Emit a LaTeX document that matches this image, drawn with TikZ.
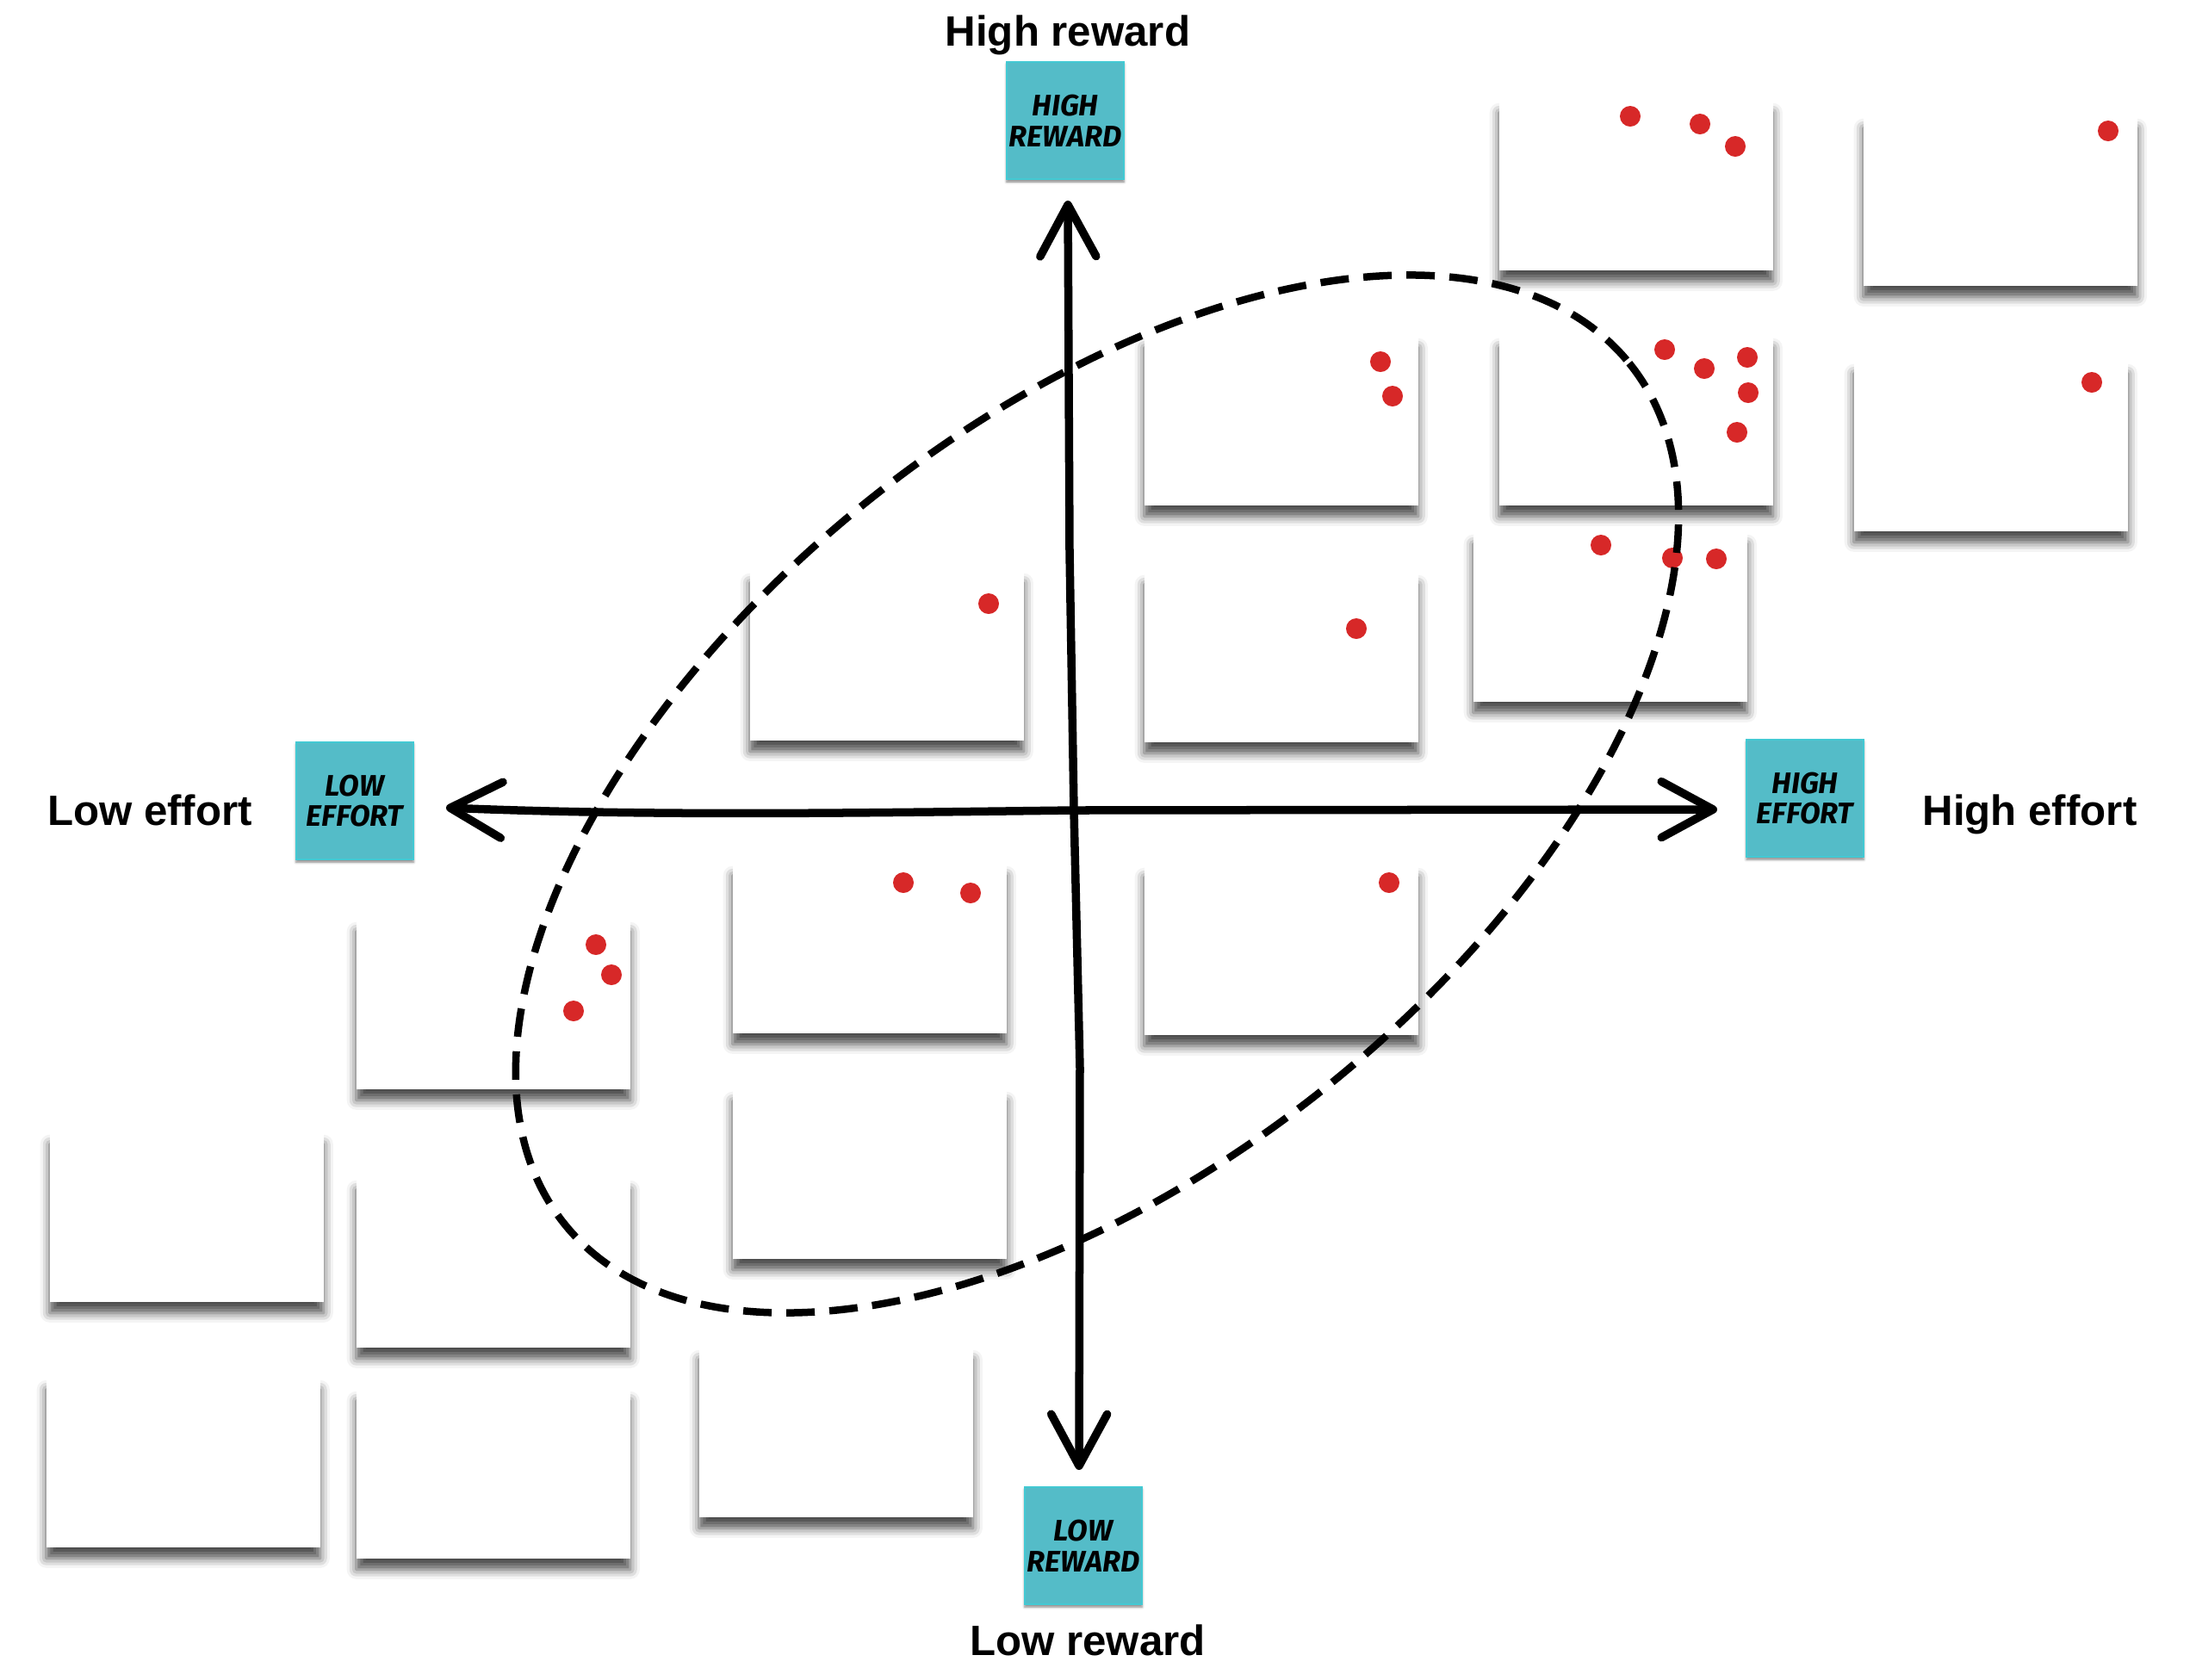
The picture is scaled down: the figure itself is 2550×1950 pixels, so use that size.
\documentclass[tikz,border=0pt]{standalone}
\usepackage{fontspec}
\setmainfont{Liberation Sans}
\newfontfamily\notefont{Fira Sans}
\usetikzlibrary{arrows.meta,shadows.blur}
\definecolor{notecyan}{RGB}{84,188,200}
\definecolor{dotred}{RGB}{215,40,40}
\begin{document}
\begin{tikzpicture}[x=0.01cm,y=-0.01cm,
    card/.style={fill=white,anchor=north west,minimum width=3.18cm,minimum height=1.96cm,inner sep=0pt,
        blur shadow={shadow xshift=0pt,shadow yshift=-0.13cm,shadow blur radius=0.11cm,shadow opacity=70}},
    note/.style={fill=notecyan,draw=notecyan!80!cyan,line width=0.4pt,minimum size=1.36cm,inner sep=0pt,align=center,
        font=\notefont\bfseries\itshape\fontsize{9.8}{10.2}\selectfont,
        blur shadow={shadow xshift=0pt,shadow yshift=-0.03cm,shadow blur radius=0.03cm,shadow opacity=50}},
    lbl/.style={font=\bfseries\fontsize{14}{16}\selectfont,anchor=base},
    axis/.style={line width=0.095cm,line cap=round,line join=round,
        {Straight Barb[length=0.6cm,width=0.65cm,round]}-{Straight Barb[length=0.6cm,width=0.65cm,round]}},
    ring/.style={line width=0.085cm,dash pattern=on 0.33cm off 0.17cm},
    dot/.style={fill=dotred}]
    \useasboundingbox (0,0) rectangle (2550,1950);
    % cards
    \foreach \n/\x/\y in {1/1740/117,2/2163/135,3/1328/390,4/1740/390,5/2152/420,6/870/663,
        7/1328/665,8/1710/618,9/850/1003,10/1328/1005,11/413/1068,12/57/1315,13/413/1368,
        14/850/1265,15/53/1600,16/413/1613,17/811/1565}
        \node[card] (c\n) at (\x,\y) {};
    % votes
    \foreach \x/\y in {1893/135,1974/144,2015/170,2448/152,1603/420,1617/460,1933/406,1979/428,
        2029/415,2030/456,2017/502,2429/444,1148/701,1575/730,1859/633,1942/648,1993/649,
        1049/1025,1127/1037,1613/1025,692/1097,710/1132,666/1174}
        \fill[dot] (\x,\y) circle[radius=12];
    % sticky notes
    \node[note] (nhr) at (1237,140) {HIGH\\REWARD};
    \node[note] (nle) at (412,930) {LOW\\EFFORT};
    \node[note] (nhe) at (2096,927) {HIGH\\EFFORT};
    \node[note] (nlr) at (1258,1795) {LOW\\REWARD};
    % labels
    \node[lbl] (lhr) at (1240,53) {High reward};
    \node[lbl] (lle) at (174,958) {Low effort};
    \node[lbl] (lhe) at (2357,958) {High effort};
    \node[lbl] (llr) at (1263,1922) {Low reward};
    % axes
    \coordinate (axt) at (1240,233);
    \coordinate (axb) at (1253,1707);
    \coordinate (axl) at (518,938);
    \coordinate (axr) at (1994,940);
    \coordinate (cross) at (1247,941);
    \draw[axis] (axl) .. controls (760,948) and (1000,944) .. (cross) -- (axr);
    \draw[axis] (axt) -- (1242,640) -- (cross) -- (1254,1240) -- (axb);
    % sweet spot
    \draw[ring,rotate around={39:(1274,922)}] (1274,922) ellipse[x radius=795,y radius=432];
\end{tikzpicture}
\end{document}
